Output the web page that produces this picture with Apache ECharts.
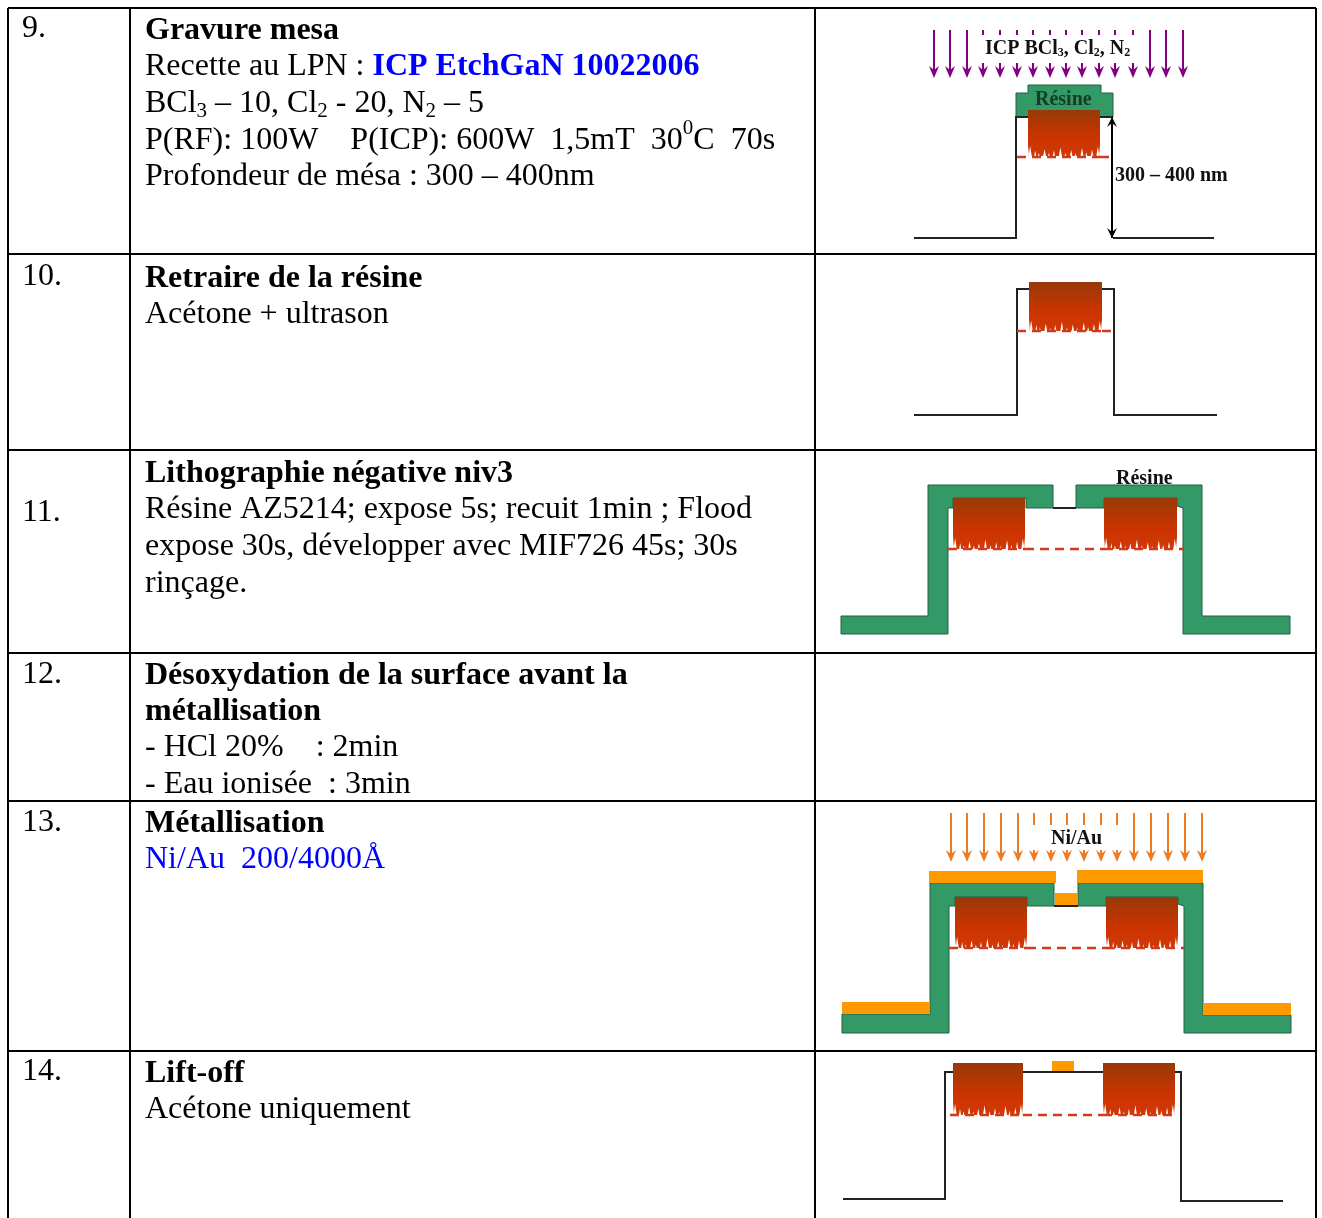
<!DOCTYPE html>
<html>
<head>
<meta charset="utf-8">
<title>Procédé</title>
<script src="https://cdn.jsdelivr.net/npm/echarts@6/dist/echarts.min.js"></script>
<style>
  html, body { margin: 0; padding: 0; background: #fff; }
  #main { width: 1322px; height: 1218px; }
</style>
</head>
<body>
<div id="main"></div>
<script>
// table rules, in picture units [x1, y1, x2, y2]
const tableRules = [
  [8, 8, 1316, 8], [8, 254, 1316, 254], [8, 450, 1316, 450], [8, 653, 1316, 653],
  [8, 801, 1316, 801], [8, 1051, 1316, 1051],
  [8, 8, 8, 1218], [130, 8, 130, 1218], [815, 8, 815, 1218], [1316, 8, 1316, 1218]
];

// left and middle column text: x, anchor y, runs of [text, style]
const tableText = [
  [22, 29, [['9.', 'r']]],
  [145, 31, [['Gravure mesa', 'b']]],
  [145, 67, [['Recette au LPN : ', 'r'], ['ICP EtchGaN 10022006', 'lb']]],
  [145, 104, [['BCl', 'r'], ['3', 'sub'], [' – 10, Cl', 'r'], ['2', 'sub'], [' - 20, N', 'r'], ['2', 'sub'], [' – 5', 'r']]],
  [145, 141, [['P(RF): 100W    P(ICP): 600W  1,5mT  30', 'r'], ['0', 'sup'], ['C  70s', 'r']]],
  [145, 177, [['Profondeur de mésa : 300 – 400nm', 'r']]],
  [22, 277, [['10.', 'r']]],
  [145, 279, [['Retraire de la résine', 'b']]],
  [145, 315, [['Acétone + ultrason', 'r']]],
  [22, 513, [['11.', 'r']]],
  [145, 474, [['Lithographie négative niv3', 'b']]],
  [145, 510, [['Résine AZ5214; expose 5s; recuit 1min ; Flood', 'r']]],
  [145, 547, [['expose 30s, développer avec MIF726 45s; 30s', 'r']]],
  [145, 584, [['rinçage.', 'r']]],
  [22, 675, [['12.', 'r']]],
  [145, 676, [['Désoxydation de la surface avant la', 'b']]],
  [145, 712, [['métallisation', 'b']]],
  [145, 748, [['- HCl 20%    : 2min', 'r']]],
  [145, 785, [['- Eau ionisée  : 3min', 'r']]],
  [22, 823, [['13.', 'r']]],
  [145, 824, [['Métallisation', 'b']]],
  [145, 860, [['Ni/Au  200/4000Å', 'l']]],
  [22, 1072, [['14.', 'r']]],
  [145, 1074, [['Lift-off', 'b']]],
  [145, 1110, [['Acétone uniquement', 'r']]]
];

// labels inside the diagrams
const diagramText = [
  [985, 49, [['ICP BCl', 'd'], ['3', 'dsub'], [', Cl', 'd'], ['2', 'dsub'], [', N', 'd'], ['2', 'dsub']]],
  [1035, 100, [['Résine', 'dg']]],
  [1115, 176, [['300 – 400 nm', 'd']]],
  [1116, 479, [['Résine', 'd']]],
  [1051, 839, [['Ni/Au', 'd']]]
];

// filled shapes: resist and metal
const resistShapes = [
  [[1016, 93], [1028, 93], [1028, 85], [1101, 85], [1101, 93], [1113, 93], [1113, 117], [1016, 117]],
  [[841, 616], [928, 616], [928, 485], [1053, 485], [1053, 508], [1026, 508], [1026, 498], [953, 498], [953, 508], [948, 508], [948, 634], [841, 634]],
  [[1076, 485], [1202, 485], [1202, 616], [1290, 616], [1290, 634], [1183, 634], [1183, 508], [1177, 506], [1177, 498], [1104, 498], [1104, 508], [1076, 508]],
  [[842, 1014], [930, 1014], [930, 883], [1054, 883], [1054, 906], [1027, 906], [1027, 897], [955, 897], [955, 906], [949, 906], [949, 1033], [842, 1033]],
  [[1078, 883], [1203, 883], [1203, 1015], [1291, 1015], [1291, 1033], [1184, 1033], [1184, 906], [1178, 904], [1178, 897], [1106, 897], [1106, 906], [1078, 906]]
];
const metalShapes = [
  [[929, 871], [1056, 871], [1056, 883], [929, 883]],
  [[1077, 870], [1203, 870], [1203, 883], [1077, 883]],
  [[1055, 893], [1077, 893], [1077, 906], [1055, 906]],
  [[842, 1002], [930, 1002], [930, 1014], [842, 1014]],
  [[1203, 1003], [1291, 1003], [1291, 1015], [1203, 1015]],
  [[1052, 1061], [1074, 1061], [1074, 1072], [1052, 1072]]
];

// substrate profile lines
const profileLines = [
  [[914, 238], [1016, 238], [1016, 117], [1113, 117]],
  [[1113, 238], [1214, 238]],
  [[914, 415], [1017, 415], [1017, 289], [1114, 289], [1114, 415], [1217, 415]],
  [[1053, 508], [1076, 508]],
  [[1054, 906], [1078, 906]],
  [[843, 1199], [945, 1199], [945, 1072], [1181, 1072], [1181, 1201], [1283, 1201]]
];

// etched contact blocks [left, right, top, bottom]
const etchBlocks = [
  [1028, 1100, 110, 156],
  [1029, 1102, 282, 331],
  [953, 1025, 498, 549],
  [1104, 1177, 498, 549],
  [955, 1027, 897, 948],
  [1106, 1178, 897, 948],
  [953, 1023, 1063, 1115],
  [1103, 1175, 1063, 1115]
];
// notches in the bottom edge of a block: [position along width, depth, half width]
const fringeNotches = [
  [0.03, 0.9, 1.6], [0.1, 0.5, 1], [0.15, 0.3, 0.8], [0.23, 0.62, 1.4], [0.29, 0.28, 0.8], [0.36, 0.5, 1.1],
  [0.45, 0.78, 1.5], [0.52, 0.3, 0.8], [0.6, 0.55, 1.2], [0.66, 0.25, 0.8], [0.75, 0.72, 1.5], [0.81, 0.35, 0.9],
  [0.89, 0.6, 1.2], [0.97, 0.85, 1.5]
];

// dashed etch-depth marks [x1, x2, y]
const etchDashes = [
  [1017, 1100, 157], [1100, 1113, 157],
  [1017, 1102, 331], [1102, 1114, 331],
  [948, 1025, 549], [1025, 1104, 549], [1104, 1183, 549],
  [949, 1027, 948], [1027, 1106, 948], [1106, 1184, 948],
  [950, 1023, 1115], [1023, 1103, 1115], [1103, 1175, 1115]
];

// gas and metal flux arrows
const purpleLong = [934, 950, 967, 1150, 1166, 1183];
const purpleShort = [983, 1000, 1017, 1033, 1050, 1066, 1082, 1099, 1115, 1133];
const orangeLong = [951, 967, 984, 1001, 1018, 1134, 1151, 1168, 1185, 1202];
const orangeShort = [1034, 1051, 1067, 1084, 1101, 1117];
// depth arrow [x, top, bottom]
const depthArrows = [[1112, 117, 238]];

const chart = echarts.init(document.getElementById('main'), null, { renderer: 'canvas' });

const FONT = '"Liberation Serif", "Times New Roman", serif';
const BLACK = '#000';
const textStyles = {
  r: { font: '32px ' + FONT, fill: BLACK },
  b: { font: 'bold 32px ' + FONT, fill: BLACK },
  l: { font: '32px ' + FONT, fill: '#0000ff' },
  lb: { font: 'bold 32px ' + FONT, fill: '#0000ff' },
  sub: { font: '21px ' + FONT, fill: BLACK, dy: 7 },
  sup: { font: '21px ' + FONT, fill: BLACK, dy: -13 },
  d: { font: 'bold 20px ' + FONT, fill: '#111' },
  dg: { font: 'bold 20px ' + FONT, fill: '#143c28' },
  dsub: { font: 'bold 12px ' + FONT, fill: '#111', dy: 4 }
};
const measure = document.createElement('canvas').getContext('2d');

// one text element for each run, laid end to end
function drawTextLine(line, api) {
  const children = [];
  let x = line[0];
  line[2].forEach(function (run) {
    const st = textStyles[run[1]];
    const p = api.coord([x, line[1] + (st.dy || 0)]);
    measure.font = st.font;
    children.push({
      type: 'text',
      style: { text: run[0], x: p[0], y: p[1], font: st.font, fill: st.fill, align: 'left', verticalAlign: 'bottom', lineHeight: 0 }
    });
    x += measure.measureText(run[0]).width;
  });
  return { type: 'group', children: children };
}

function drawRule(r, api) {
  const a = api.coord([r[0], r[1]]), b = api.coord([r[2], r[3]]);
  return { type: 'line', shape: { x1: a[0], y1: a[1], x2: b[0], y2: b[1] }, style: { stroke: BLACK, lineWidth: 2 } };
}

function drawShape(fill, stroke) {
  return function (pts, api) {
    return { type: 'polygon', shape: { points: pts.map(function (p) { return api.coord(p); }) }, style: { fill: fill, stroke: stroke, lineWidth: 1 } };
  };
}

function drawProfile(pts, api) {
  return { type: 'polyline', shape: { points: pts.map(function (p) { return api.coord(p); }) }, style: { fill: 'none', stroke: '#222', lineWidth: 2 } };
}

function drawBlock(b, api) {
  const left = b[0], right = b[1], top = b[2], bottom = b[3];
  const fringe = (bottom - top) * 0.24;
  const w = right - left;
  const pts = [[left, top], [right, top], [right, bottom - fringe], [right - 1, bottom]];
  fringeNotches.slice().reverse().forEach(function (n) {
    const mid = left + w * n[0];
    pts.push([mid + n[2], bottom], [mid, bottom - fringe * n[1]], [mid - n[2], bottom]);
  });
  pts.push([left + 1, bottom], [left, bottom - fringe]);
  return {
    type: 'polygon',
    shape: { points: pts.map(function (p) { return api.coord(p); }) },
    style: {
      fill: new echarts.graphic.LinearGradient(0, 0, 0, 1, [
        { offset: 0, color: '#963a08' },
        { offset: 0.6, color: '#cc3300' },
        { offset: 1, color: '#d03a08' }
      ])
    }
  };
}

function drawDash(d, api) {
  const a = api.coord([d[0], d[2]]), b = api.coord([d[1], d[2]]);
  return { type: 'line', shape: { x1: a[0], y1: a[1], x2: b[0], y2: b[1] }, style: { stroke: '#d23a1c', lineWidth: 2.5, lineDash: [9, 6] } };
}

// arrow pointing down; broken arrows leave a gap for the label
function drawArrow(color, top, tip, gap) {
  return function (x, api) {
    const a = api.coord([x, top]), t = api.coord([x, tip]);
    const children = [];
    if (gap) {
      const g0 = api.coord([x, gap[0]]), g1 = api.coord([x, gap[1]]);
      children.push({ type: 'line', shape: { x1: a[0], y1: a[1], x2: g0[0], y2: g0[1] }, style: { stroke: color, lineWidth: 2 } });
      children.push({ type: 'line', shape: { x1: g1[0], y1: g1[1], x2: t[0], y2: t[1] - 6 }, style: { stroke: color, lineWidth: 2 } });
    } else {
      children.push({ type: 'line', shape: { x1: a[0], y1: a[1], x2: t[0], y2: t[1] - 6 }, style: { stroke: color, lineWidth: 2 } });
    }
    children.push({ type: 'polygon', shape: { points: [[t[0] - 5, t[1] - 12], [t[0], t[1] - 8], [t[0] + 5, t[1] - 12], [t[0], t[1]]] }, style: { fill: color } });
    return { type: 'group', children: children };
  };
}

function drawDepthArrow(d, api) {
  const a = api.coord([d[0], d[1]]), b = api.coord([d[0], d[2]]);
  return {
    type: 'group',
    children: [
      { type: 'line', shape: { x1: a[0], y1: a[1], x2: b[0], y2: b[1] }, style: { stroke: BLACK, lineWidth: 2 } },
      { type: 'polygon', shape: { points: [[a[0] - 5, a[1] + 10], [a[0], a[1]], [a[0] + 5, a[1] + 10], [a[0], a[1] + 6]] }, style: { fill: BLACK } },
      { type: 'polygon', shape: { points: [[b[0] - 5, b[1] - 10], [b[0], b[1]], [b[0] + 5, b[1] - 10], [b[0], b[1] - 6]] }, style: { fill: BLACK } }
    ]
  };
}

function layer(list, draw, z) {
  return {
    type: 'custom',
    coordinateSystem: 'cartesian2d',
    silent: true,
    z: z,
    clip: false,
    data: list.map(function (_, i) { return [i, 0]; }),
    encode: { x: 0, y: 1 },
    renderItem: function (params, api) { return draw(list[params.dataIndex], api); }
  };
}

const option = {
  animation: false,
  backgroundColor: '#fff',
  grid: { left: 0, right: 0, top: 0, bottom: 0 },
  xAxis: { type: 'value', min: 0, max: 1322, show: false },
  yAxis: { type: 'value', min: 0, max: 1218, inverse: true, show: false },
  series: [
    layer(resistShapes, drawShape('#339966', '#245f45'), 2),
    layer(metalShapes, drawShape('#ff9900', 'none'), 3),
    layer(profileLines, drawProfile, 4),
    layer(etchBlocks, drawBlock, 5),
    layer(etchDashes, drawDash, 5),
    layer(purpleLong, drawArrow('#800080', 30, 78), 6),
    layer(purpleShort, drawArrow('#800080', 30, 78, [35, 63]), 6),
    layer(orangeLong, drawArrow('#ee7a22', 813, 862), 6),
    layer(orangeShort, drawArrow('#ee7a22', 813, 862, [825, 850]), 6),
    layer(depthArrows, drawDepthArrow, 6),
    layer(tableRules, drawRule, 7),
    layer(tableText, drawTextLine, 8),
    layer(diagramText, drawTextLine, 8)
  ]
};
chart.setOption(option);
</script>
</body>
</html>
